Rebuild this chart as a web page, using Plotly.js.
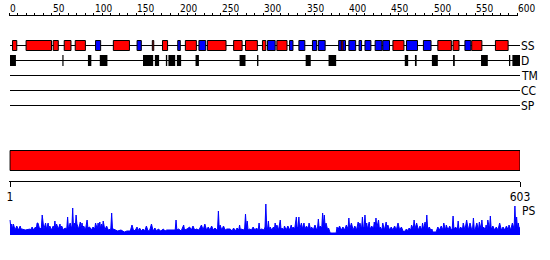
<!DOCTYPE html>
<html><head><meta charset="utf-8">
<script src="https://cdn.plot.ly/plotly-3.0.1.min.js"></script>
<style>html,body{margin:0;padding:0;background:#fff}#chart{width:550px;height:260px}</style>
</head><body><div id="chart"></div>
<script>
// ---- data ----
const seqLength = 603;
const topTickLabels = [0,50,100,150,200,250,300,350,400,450,500,550,600];
const trackNames = ['SS','D','TM','CC','SP'];
const helixStart = [4,20,52,65,78,123,169,181,208,234,265,279,299,316,392,453,506,524,546,574];
const helixEnd   = [9,50,58,73,90,142,170.7,187,221,256,275,293,303,328,394,466,522,531,558,589];
const strandStart = [102,151,199,224,305,331,342,358,365,389,401,413,420,432,441,469,489,538];
const strandEnd   = [108,156,202,232,314,335,349,363,373,397,409,416,427,440,449,482,498,545];
const disStart = [1,62.8,93,107,158,172,185,188,198,220,272,292.6,350,377,467,479,499,524,557,590,594];
const disEnd   = [8,64.2,97,116,170,177,186.6,196,203,224,279,294.2,356,386,471,481,506,526,565,591.5,603];
const domainStart = [1];
const domainEnd = [603];
const psPos = [1,2,3,4,5,7,9,11,13,14,15,19,25,26,27,29,31,32,33,34,36,38,39,40,41,43,44,46,47,48,50,52,53,54,55,56,58,60,61,62,64,66,68,69,70,72,74,75,76,77,78,79,80,82,84,85,86,87,88,90,92,93,95,97,99,101,102,104,105,106,107,108,109,110,111,113,115,117,120,121,122,123,125,128,132,136,139,143,145,147,149,151,152,154,156,158,160,162,164,166,168,170,172,174,176,179,182,184,186,190,194,196,197,198,200,203,206,207,210,213,215,217,219,221,224,227,229,231,233,235,237,239,241,243,245,246,247,248,249,251,253,255,257,261,263,265,267,269,271,272,273,274,277,278,279,280,281,282,284,286,288,290,292,294,295,296,298,301,302,303,304,305,306,307,
308,310,312,313,314,315,316,318,320,321,322,324,325,327,329,331,333,334,335,337,339,340,341,342,343,345,346,348,349,351,353,354,356,357,359,361,363,364,365,366,367,369,370,371,372,373,374,376,377,378,379,382,386,387,388,390,392,394,396,398,400,401,402,404,406,408,410,412,413,414,416,417,418,419,420,421,422,423,425,426,428,430,431,432,433,434,436,437,438,440,441,443,445,446,447,449,451,453,455,457,459,461,463,465,466,469,471,472,474,475,477,478,479,481,483,485,487,488,489,491,492,493,494,496,498,499,500,504,506,508,510,512,513,515,516,518,520,522,523,524,525,527,529,530,531,533,535,536,538,540,542,544,546,547,548,549,550,552,554,555,557,558,559,560,562,563,564,565,567,568,569,571,573,575,577,579,581,583,585,587,589,590,592,594,596,597,598,599,600,601,602,603];
const psScore = [15,7,11,6,11,5,9,5,9,6,6,5,6,5,8,5,8,6,12,12,6,7,20,10,6,12,6,12,6,9,5,9,6,14,6,11,6,11,6,9,5,7,6,18,6,12,6,27,6,12,6,20,11,6,13,6,12,6,9,5,15,7,8,5,8,6,12,6,12,6,13,6,11,6,14,5,9,5,6,22,6,6,5,4,5,3,4,4,10,4,5,8,4,7,4,6,4,9,4,5,11,4,7,4,6,4,6,4,5,5,5,5,15,5,6,4,10,5,6,8,5,9,5,6,5,10,5,11,5,8,5,9,5,7,5,6,24,6,10,5,9,5,6,6,4,7,4,7,5,10,5,6,5,7,21,7,14,5,6,5,8,5,7,5,12,5,6,5,8,31,8,6,14,5,
8,5,8,5,12,5,10,5,15,5,7,5,9,5,9,5,10,5,8,6,18,7,8,18,6,12,6,12,6,9,6,12,5,8,5,10,5,7,16,6,9,7,22,10,20,8,12,5,7,3,2,2,2,8,5,9,5,8,5,10,6,17,6,12,5,9,5,13,6,12,6,18,7,8,20,7,12,6,13,6,9,6,13,7,17,7,15,6,8,5,12,5,13,6,10,5,8,5,9,5,12,5,8,4,3,6,4,7,5,10,6,15,6,12,5,9,5,12,6,13,6,20,6,8,4,6,3,3,8,5,9,5,12,5,10,5,9,5,6,19,6,8,5,14,5,8,5,12,5,15,5,12,5,6,17,6,5,12,5,13,6,15,6,8,5,10,5,15,6,19,6,9,5,8,5,12,5,8,5,9,5,10,5,12,6,29,8,18,7,12,6,8];

// ---- layout geometry (page pixels) ----
const W = 550, H = 260;
const xDomain = [9.15 / W, 520 / W];
const trackY = [45.5, 60.5, 75.5, 90.5, 105.5];
const topAxisY = 15.5;
const FONT = 'DejaVu Sans Condensed, DejaVu Sans, sans-serif';

const shapes = [];
shapes.push({type:'line', xref:'x', yref:'y', x0:topTickLabels[0], x1:topTickLabels[topTickLabels.length-1], y0:topAxisY, y1:topAxisY, line:{color:'#000', width:1}});
trackY.forEach(y => shapes.push({type:'line', xref:'x', yref:'y', x0:1, x1:seqLength, y0:y, y1:y, line:{color:'#000', width:1}}));
strandStart.forEach((s,i) => shapes.push({type:'rect', xref:'x', yref:'y', x0:s, x1:strandEnd[i], y0:40.5, y1:50.5, fillcolor:'#0000ff', line:{color:'#000', width:1}}));
helixStart.forEach((s,i) => shapes.push({type:'rect', xref:'x', yref:'y', x0:s, x1:helixEnd[i], y0:40.5, y1:50.5, fillcolor:'#ff0000', line:{color:'#000', width:1}}));
disStart.forEach((s,i) => shapes.push({type:'rect', xref:'x', yref:'y', x0:s, x1:disEnd[i], y0:55, y1:66, fillcolor:'#000', line:{width:0}}));
domainStart.forEach((s,i) => shapes.push({type:'rect', xref:'x', yref:'y', x0:s, x1:domainEnd[i], y0:150.5, y1:170.5, fillcolor:'#ff0000', line:{color:'#000', width:1}}));

const annotations = [];
topTickLabels.forEach(v => annotations.push({xref:'x2', yref:'y', x:v, y:8, xanchor:'left', yanchor:'middle', text:String(v), showarrow:false, xshift:-1, font:{family:FONT, size:10, color:'#000'}}));
trackNames.forEach((n,i) => annotations.push({xref:'paper', yref:'y', x:519/W, y:trackY[i], xanchor:'left', yanchor:'middle', text:n, showarrow:false, font:{family:FONT, size:12, color:'#000'}}));
annotations.push({xref:'paper', yref:'y', x:520/W, y:211, xanchor:'left', yanchor:'middle', text:'PS', showarrow:false, font:{family:FONT, size:12, color:'#000'}});

const traces = [
  {x:psPos, y:psScore, xaxis:'x', yaxis:'y2', type:'scatter', mode:'lines', fill:'tozeroy', fillcolor:'#0000ff', line:{color:'#0000ff', width:1}, hoverinfo:'skip'},
  {x:[topTickLabels[0]], y:[-50], xaxis:'x2', yaxis:'y', type:'scatter', mode:'markers', marker:{opacity:0}, hoverinfo:'skip'}
];

const layout = {
  width:W, height:H, margin:{l:0,r:0,t:0,b:0}, paper_bgcolor:'#fff', plot_bgcolor:'rgba(0,0,0,0)', showlegend:false,
  font:{family:FONT, size:12, color:'#000'},
  xaxis:{domain:xDomain, range:[0,seqLength], anchor:'free', position:1-180.5/H, tickvals:[1,seqLength], ticktext:['1',String(seqLength)], ticks:'outside', ticklen:5, tickcolor:'#000', tickwidth:1, showline:true, linecolor:'#000', linewidth:1, showgrid:false, zeroline:false, tickfont:{family:FONT, size:12, color:'#000'}, fixedrange:true},
  xaxis2:{domain:xDomain, range:[0,seqLength], anchor:'free', position:1-topAxisY/H, side:'top', tick0:0, dtick:10, ticks:'outside', ticklen:3, tickcolor:'#000', tickwidth:1, showticklabels:false, showline:false, showgrid:false, zeroline:false, fixedrange:true},
  yaxis:{domain:[0,1], range:[H,0], visible:false, fixedrange:true},
  yaxis2:{domain:[1-235/H, 1-203/H], range:[0, 32], anchor:'x', visible:false, fixedrange:true},
  shapes:shapes, annotations:annotations
};
Plotly.newPlot('chart', traces, layout, {staticPlot:true, displayModeBar:false});
</script>
</body></html>
